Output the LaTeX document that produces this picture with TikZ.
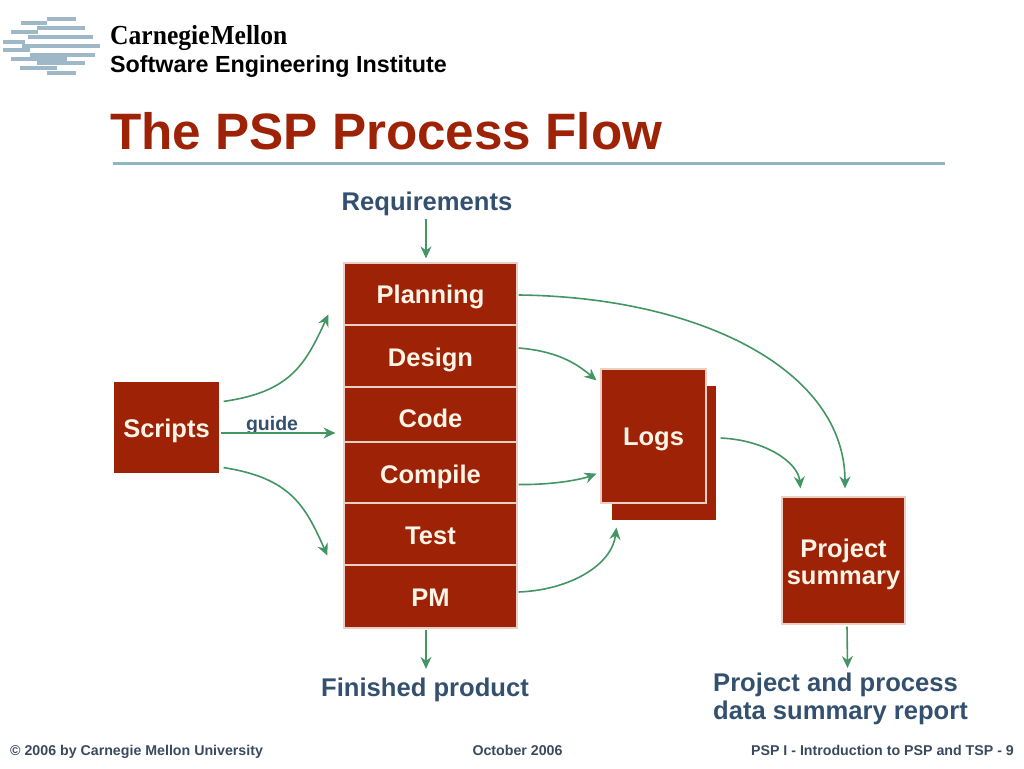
\documentclass[tikz,border=0pt]{standalone}
\usepackage{fontspec}
\setmainfont{Liberation Sans}
\newfontfamily\serifbold{Liberation Serif}[Scale=1]
\usetikzlibrary{arrows.meta}
\definecolor{brick}{HTML}{9E2206}
\definecolor{edgepink}{HTML}{EBCFC4}
\definecolor{flowgreen}{HTML}{439563}
\definecolor{labelblue}{HTML}{34506F}
\definecolor{footblue}{HTML}{3A4A5E}
\definecolor{ruleblue}{HTML}{8FB5C2}
\definecolor{creamtext}{HTML}{FFF4E6}
\definecolor{stripe}{HTML}{9FB8C8}
\newcommand{\lowered}[2]{\raisebox{-#1pt}[\height][\depth]{#2}}
\tikzset{
  x=1pt,y=-1pt,
  brickbox/.style={draw=edgepink,line width=1.2pt,fill=brick,text=creamtext,font=\fontsize{25.5}{28}\selectfont\bfseries,align=center,inner sep=0pt},
  flow/.style={draw=flowgreen,line width=1.6pt,-{Stealth[length=12pt,width=11pt,inset=4pt]}},
  bluetext/.style={text=labelblue,font=\fontsize{25.6}{28}\selectfont\bfseries,inner sep=0pt},
  foot/.style={font=\fontsize{14.2}{16}\selectfont\bfseries,text=footblue,inner sep=0pt},
  logostripe/.style={draw=stripe,line width=3.8pt}
}
\begin{document}
\begin{tikzpicture}
\useasboundingbox (0,0) rectangle (1024,768);
% logo
\foreach \ya/\xa/\xb in {19/47/76,23/21/47,28/37/85,32/11/38,37/28/93,42/3/25,46/22/100,50/3/30,55/30/95,59/11/67,63/37/85,68/20/57,73/47/76}
  \draw[logostripe] (\xa,\ya) -- (\xb,\ya);
\node[anchor=west,inner sep=0pt,xscale=0.93,font=\serifbold\fontsize{27.5}{30}\selectfont\bfseries] (cmu) at (110,38) {Carnegie\kern1pt Mellon};
\node[anchor=west,inner sep=0pt,font=\fontsize{23.3}{26}\selectfont\bfseries] (sei) at (110,67) {Software Engineering Institute};
% title
\node[anchor=west,inner sep=0pt,text=brick,font=\fontsize{51.2}{54}\selectfont\bfseries] (title) at (110,131) {The PSP Process Flow};
\draw[ruleblue,line width=3pt] (113,163) -- (945,163);
% stack
\node[brickbox,minimum width=173pt,minimum height=62pt] (planning) at (430.5,294) {\lowered{3}{Planning}};
\node[brickbox,minimum width=173pt,minimum height=62pt] (design) at (430.5,356) {\lowered{4}{Design}};
\node[brickbox,minimum width=173pt,minimum height=55pt] (code) at (430.5,414.5) {\lowered{4}{Code}};
\node[brickbox,minimum width=173pt,minimum height=61pt] (compile) at (430.5,472.5) {\lowered{4}{Compile}};
\node[brickbox,minimum width=173pt,minimum height=62pt] (test) at (430.5,534) {\lowered{2}{Test}};
\node[brickbox,minimum width=173pt,minimum height=63pt] (pm) at (430.5,596.5) {\lowered{1}{PM}};
\node[brickbox,draw=none,minimum width=105pt,minimum height=91pt] (scripts) at (166.5,427.5) {\lowered{3}{Scripts}};
\node[brickbox,draw=none,minimum width=104pt,minimum height=134pt] (logsback) at (664,453) {};
\node[brickbox,minimum width=105pt,minimum height=134pt] (logs) at (653.5,436) {\lowered{3}{Logs}};
\node[brickbox,minimum width=123pt,minimum height=127pt] (summary) at (843.5,560.5) {\lowered{3.5}{\shortstack{Project\\[5pt]summary}}};
% texts
\node[bluetext] (req) at (427,204) {Requirements};
\node[bluetext] (finished) at (425,690) {Finished product};
\node[bluetext,align=left,anchor=north west] (report) at (713,673) {Project and process\\data summary report};
\node[text=labelblue,inner sep=0pt,font=\fontsize{19.5}{22}\selectfont\bfseries] (guide) at (272,425) {guide};
% connectors
\draw[flow] ([shift={(-1,3)}]req.south) -- ([shift={(-4.5,-4)}]planning.north);
\draw[flow] ([shift={(-4.5,1)}]pm.south) -- ([shift={(1,-9)}]finished.north);
\draw[flow] ([shift={(3.5,2)}]summary.south) -- ([shift={(7,-5)}]report.north);
\draw[flow] ([shift={(4,20)}]scripts.north east) .. controls (290,392) and (305,365) .. ([shift={(-15,52)}]planning.north west);
\draw[flow] ([shift={(1,5.5)}]scripts.east) -- ([shift={(-8,18.5)}]code.west);
\draw[flow] ([shift={(4,-6)}]scripts.south east) .. controls (290,478) and (305,505) .. ([shift={(-16,-10)}]test.south west);
\draw[flow] ([shift={(1,1)}]planning.east) .. controls (700,297) and (845,370) .. ([shift={(1.5,-8)}]summary.north);
\draw[flow] ([shift={(1,-8)}]design.east) .. controls (555,351) and (575,362) .. ([shift={(-4,12)}]logs.north west);
\draw[flow] ([shift={(1,12)}]compile.east) .. controls (550,485) and (580,480) .. ([shift={(-4,-30)}]logs.south west);
\draw[flow] ([shift={(1,-4.5)}]pm.east) .. controls (570,590) and (612,565) .. ([shift={(5,7)}]logsback.south west);
\draw[flow] ([shift={(4,-15)}]logsback.east) .. controls (765,440) and (798,462) .. ([shift={(19,-8)}]summary.north west);
% footer
\node[foot,anchor=base west] (fa) at (10,755) {© 2006 by Carnegie Mellon University};
\node[foot,anchor=base] (fb) at (517.5,755) {October 2006};
\node[foot,anchor=base east] (fc) at (1014,755) {PSP I - Introduction to PSP and TSP - 9};
\end{tikzpicture}
\end{document}
